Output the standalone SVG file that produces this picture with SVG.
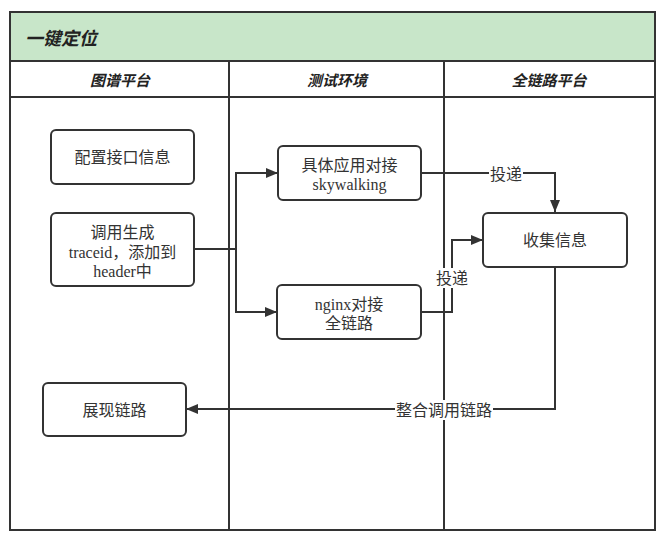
<svg xmlns="http://www.w3.org/2000/svg" width="664" height="537" viewBox="0 0 664 537">
<style>
.frame{fill:none;stroke:#333;stroke-width:2}
.node rect{fill:#fff;stroke:#333;stroke-width:2}
.t{font-family:"Liberation Serif","Noto Sans CJK SC",serif;font-size:16px;fill:#333;text-anchor:middle;dominant-baseline:central}
.h{font-family:"Noto Sans CJK SC","Liberation Sans",sans-serif;font-size:15px;font-weight:bold;font-style:italic;fill:#222;text-anchor:middle;dominant-baseline:central}
.edge{fill:none;stroke:#333;stroke-width:2}
.lbg{fill:#fff}
</style>
<defs>
<marker id="arr" viewBox="0 0 12 10" refX="12" refY="5" markerWidth="12" markerHeight="10" markerUnits="userSpaceOnUse" orient="auto">
<path d="M0,0 L12,5 L0,10 Z" fill="#333"/>
</marker>
</defs>
<rect x="0" y="0" width="664" height="537" fill="#fff"/>
<g id="pool">
<rect x="10" y="12" width="645" height="49" fill="#c8e6c9" stroke="#333" stroke-width="2"/>
<text x="25" y="37" class="h" style="text-anchor:start;font-size:18px">一键定位</text>
<rect x="10" y="61" width="645" height="469" class="frame"/>
<line x1="10" y1="97" x2="655" y2="97" class="frame"/>
<line x1="229" y1="61" x2="229" y2="530" class="frame"/>
<line x1="444" y1="61" x2="444" y2="530" class="frame"/>
<text x="120" y="79" class="h">图谱平台</text>
<text x="337" y="79" class="h">测试环境</text>
<text x="549" y="79" class="h">全链路平台</text>
</g>
<g id="connectors">
<path class="edge" d="M194,249 H236 V173 H278" marker-end="url(#arr)"/>
<path class="edge" d="M236,249 V312 H277" marker-end="url(#arr)"/>
<path class="edge" d="M421,173 H555 V212" marker-end="url(#arr)"/>
<path class="edge" d="M421,312 H452 V240 H483" marker-end="url(#arr)"/>
<path class="edge" d="M555,267 V409 H186" marker-end="url(#arr)"/>
<rect class="lbg" x="489" y="164" width="34" height="20"/>
<text class="t" x="506" y="174">投递</text>
<rect class="lbg" x="435" y="268" width="34" height="20"/>
<text class="t" x="452" y="278">投递</text>
<rect class="lbg" x="395" y="400" width="98" height="20"/>
<text class="t" x="444" y="410">整合调用链路</text>
</g>
<g id="n1" class="node">
<rect x="51" y="130" width="143" height="54" rx="5"/>
<text class="t" x="122.5" y="157">配置接口信息</text>
</g>
<g id="n2" class="node">
<rect x="51" y="213" width="143" height="73" rx="5"/>
<text class="t" x="122.5" y="232">调用生成</text>
<text class="t" x="122.5" y="252">traceid，添加到</text>
<text class="t" x="122.5" y="271">header中</text>
</g>
<g id="n3" class="node">
<rect x="278" y="146" width="143" height="54" rx="5"/>
<text class="t" x="349.5" y="165">具体应用对接</text>
<text class="t" x="349.5" y="184">skywalking</text>
</g>
<g id="n4" class="node">
<rect x="277" y="285" width="144" height="54" rx="5"/>
<text class="t" x="349" y="304">nginx对接</text>
<text class="t" x="349" y="323">全链路</text>
</g>
<g id="n5" class="node">
<rect x="483" y="213" width="144" height="54" rx="5"/>
<text class="t" x="555" y="240">收集信息</text>
</g>
<g id="n6" class="node">
<rect x="43" y="383" width="143" height="53" rx="5"/>
<text class="t" x="114.5" y="410">展现链路</text>
</g>
</svg>
